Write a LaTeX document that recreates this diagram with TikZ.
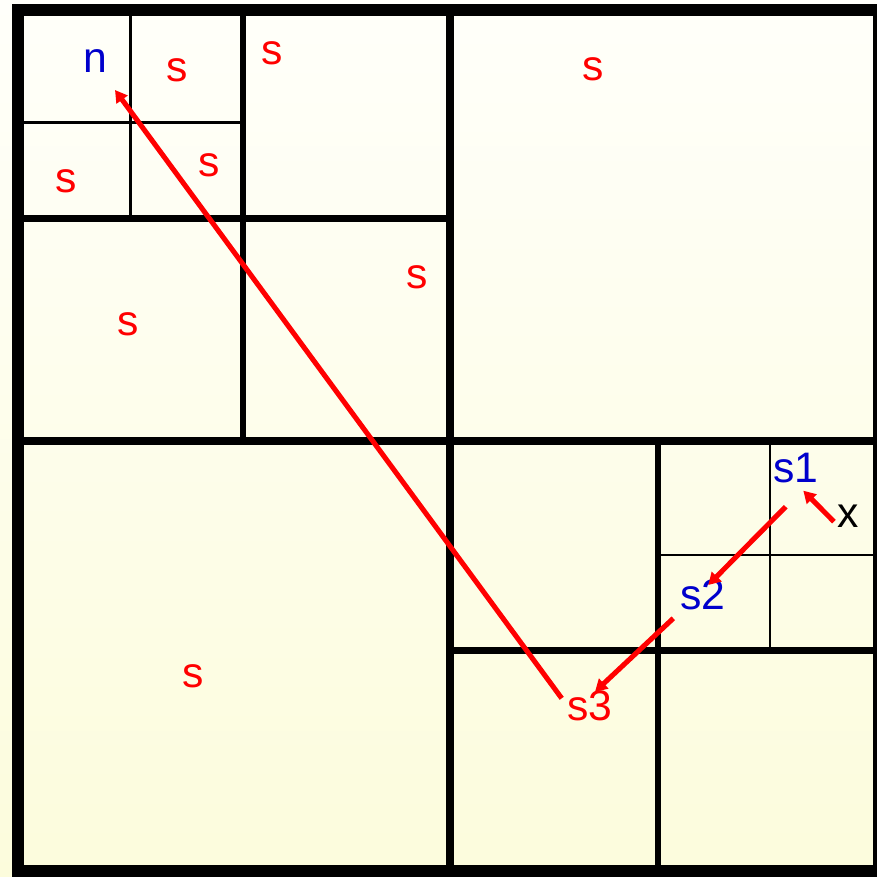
\documentclass[tikz,border=0pt]{standalone}
\usepackage{fontspec}
\setmainfont{Liberation Sans}
\usetikzlibrary{calc,arrows.meta}
\definecolor{bgtop}{RGB}{255,255,250}
\definecolor{bgbot}{RGB}{252,252,220}
\definecolor{lblblue}{RGB}{0,0,204}
\definecolor{lblred}{RGB}{255,0,0}
\tikzset{
  frameline/.style={line width=9pt},
  bigline/.style={line width=6pt},
  midline/.style={line width=5pt},
  thinline/.style={line width=2.2pt},
  lbl/.style={inner sep=0pt, font=\fontsize{32}{32}\selectfont},
  slbl/.style={lbl, text=lblred},
  blbl/.style={lbl, text=lblblue},
  xlbl/.style={lbl, text=black},
  arr/.style={draw=lblred, line width=3.8pt, -{Triangle[length=9pt,width=10pt]}},
}
\begin{document}
\begin{tikzpicture}[x=0.75pt,y=-0.75pt]
\useasboundingbox (0,0) rectangle (877,876);
\clip (0,0) rectangle (877,876);
\shade[top color=bgtop, bottom color=bgbot] (0,0) rectangle (877,876);
% outer frame
\draw[frameline] (18,10) rectangle (879,871);
% main division
\draw[bigline] (450,10) -- (450,871);
\draw[bigline] (18,441) -- (879,441);
% top-left quadrant
\draw[midline] (243,10) -- (243,441);
\draw[midline] (18,218.5) -- (450,218.5);
\draw[thinline] (130.5,10) -- (130.5,218.5);
\draw[thinline] (18,122.3) -- (243,122.3);
% bottom-right quadrant
\draw[midline] (658,441) -- (658,871);
\draw[midline] (450,650.5) -- (879,650.5);
\draw[thinline] (770,441) -- (770,650.5);
\draw[thinline] (658,555) -- (879,555);
% labels
\node[blbl] (n) at (95.5,61.5) {n};
\node[slbl] (sa) at (177,70) {s};
\node[slbl] (sb) at (272,53) {s};
\node[slbl] (sc) at (593,69) {s};
\node[slbl] (sd) at (66,181) {s};
\node[slbl] (se) at (209.5,165) {s};
\node[slbl] (sf) at (128,324) {s};
\node[slbl] (sg) at (417,277) {s};
\node[slbl] (sh) at (193,676) {s};
\node[blbl] (s1) at (796,468) {s1};
\node[xlbl] (x) at (848,516) {x};
\node[blbl] (s2) at (703,595) {s2};
\node[slbl] (s3) at (590,706) {s3};
% arrows
\draw[arr] ($(x)+(-14,5.7)$) -- ($(s1)+(7.3,22.7)$);
\draw[arr] ($(s1)+(-10.3,38.7)$) -- ($(s2)+(5.3,-10)$);
\draw[arr] ($(s2)+(-29.7,23.3)$) -- ($(s3)+(5,-14.3)$);
\draw[arr] ($(s3)+(-28.3,-7.7)$) -- ($(n)+(19.5,28.5)$);
\end{tikzpicture}
\end{document}
